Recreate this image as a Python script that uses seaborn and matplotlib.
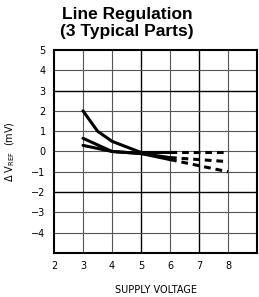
"""
Line regulation chart, 3 typical parts
"""

import matplotlib
matplotlib.use("Agg")
import matplotlib.pyplot as plt
import seaborn as sns
import pandas as pd

# solid part of each curve
x_a = [3, 3.5, 4, 5, 6]
y_a = [2.0, 1.0, 0.5, -0.05, -0.05]
x_b = [3, 4, 5, 6]
y_b = [0.65, 0.0, -0.1, -0.3]
x_c = [3, 4, 5, 6]
y_c = [0.3, 0.0, -0.1, -0.4]

# dashed extension
x_dash = [6, 8]
y_a_dash = [-0.05, -0.05]
y_b_dash = [-0.3, -0.5]
y_c_dash = [-0.4, -1.0]

x_ticks = [2, 3, 4, 5, 6, 7, 8]
y_ticks = [-4, -3, -2, -1, 0, 1, 2, 3, 4, 5]

sns.set_style("white")
plt.rcParams["font.family"] = ["DejaVu Sans"]
plt.rcParams["text.color"] = "black"
plt.rcParams["axes.labelcolor"] = "black"
plt.rcParams["xtick.color"] = "black"
plt.rcParams["ytick.color"] = "black"

fig = plt.figure(figsize=(2.59, 2.97), dpi=100)
ax = fig.add_axes([0.2085, 0.148, 0.784, 0.684])

# grid
for gx in [3, 4, 5, 6, 7, 8]:
    dark = gx in (5, 7)
    ax.axvline(gx, color="black" if dark else "#555555", lw=1.0 if dark else 0.8, zorder=1)
for gy in range(-4, 5):
    dark = gy in (3, -2)
    ax.axhline(gy, color="black" if dark else "#555555", lw=1.0 if dark else 0.8, zorder=1)

solid = pd.concat([
    pd.DataFrame({"x": x_a, "y": y_a, "part": "A"}),
    pd.DataFrame({"x": x_b, "y": y_b, "part": "B"}),
    pd.DataFrame({"x": x_c, "y": y_c, "part": "C"}),
])
dashed = pd.concat([
    pd.DataFrame({"x": x_dash, "y": y_a_dash, "part": "A"}),
    pd.DataFrame({"x": x_dash, "y": y_b_dash, "part": "B"}),
    pd.DataFrame({"x": x_dash, "y": y_c_dash, "part": "C"}),
])

pal = {"A": "black", "B": "black", "C": "black"}
sns.lineplot(data=solid, x="x", y="y", hue="part", palette=pal, lw=2.2,
             legend=False, ax=ax, zorder=3, sort=False)
sns.lineplot(data=dashed, x="x", y="y", hue="part", palette=pal, lw=2.2,
             legend=False, ax=ax, zorder=3, sort=False, dashes=False,
             linestyle=(0, (2.2, 1.6)))

ax.set_xlim(2, 9)
ax.set_ylim(-5, 5)
ax.set_xticks(x_ticks)
ax.set_yticks(y_ticks)
ax.set_yticklabels([str(v).replace("-", "\u2212") for v in y_ticks])
ax.tick_params(length=0, labelsize=7, pad=6)

for s in ax.spines.values():
    s.set_color("black")
    s.set_linewidth(1.5)

ax.set_xlabel("SUPPLY VOLTAGE", fontsize=7, labelpad=10)
ax.set_ylabel(r"$\Delta$ V$_{\mathrm{REF}}$  (mV)", fontsize=7, labelpad=10)
fig.text(0.49, 0.922, "Line Regulation\n(3 Typical Parts)", ha="center", va="center",
         color="black", fontsize=12.5, fontweight="bold", family="Liberation Sans",
         linespacing=1.2)

fig.savefig("out.png", dpi=100)
